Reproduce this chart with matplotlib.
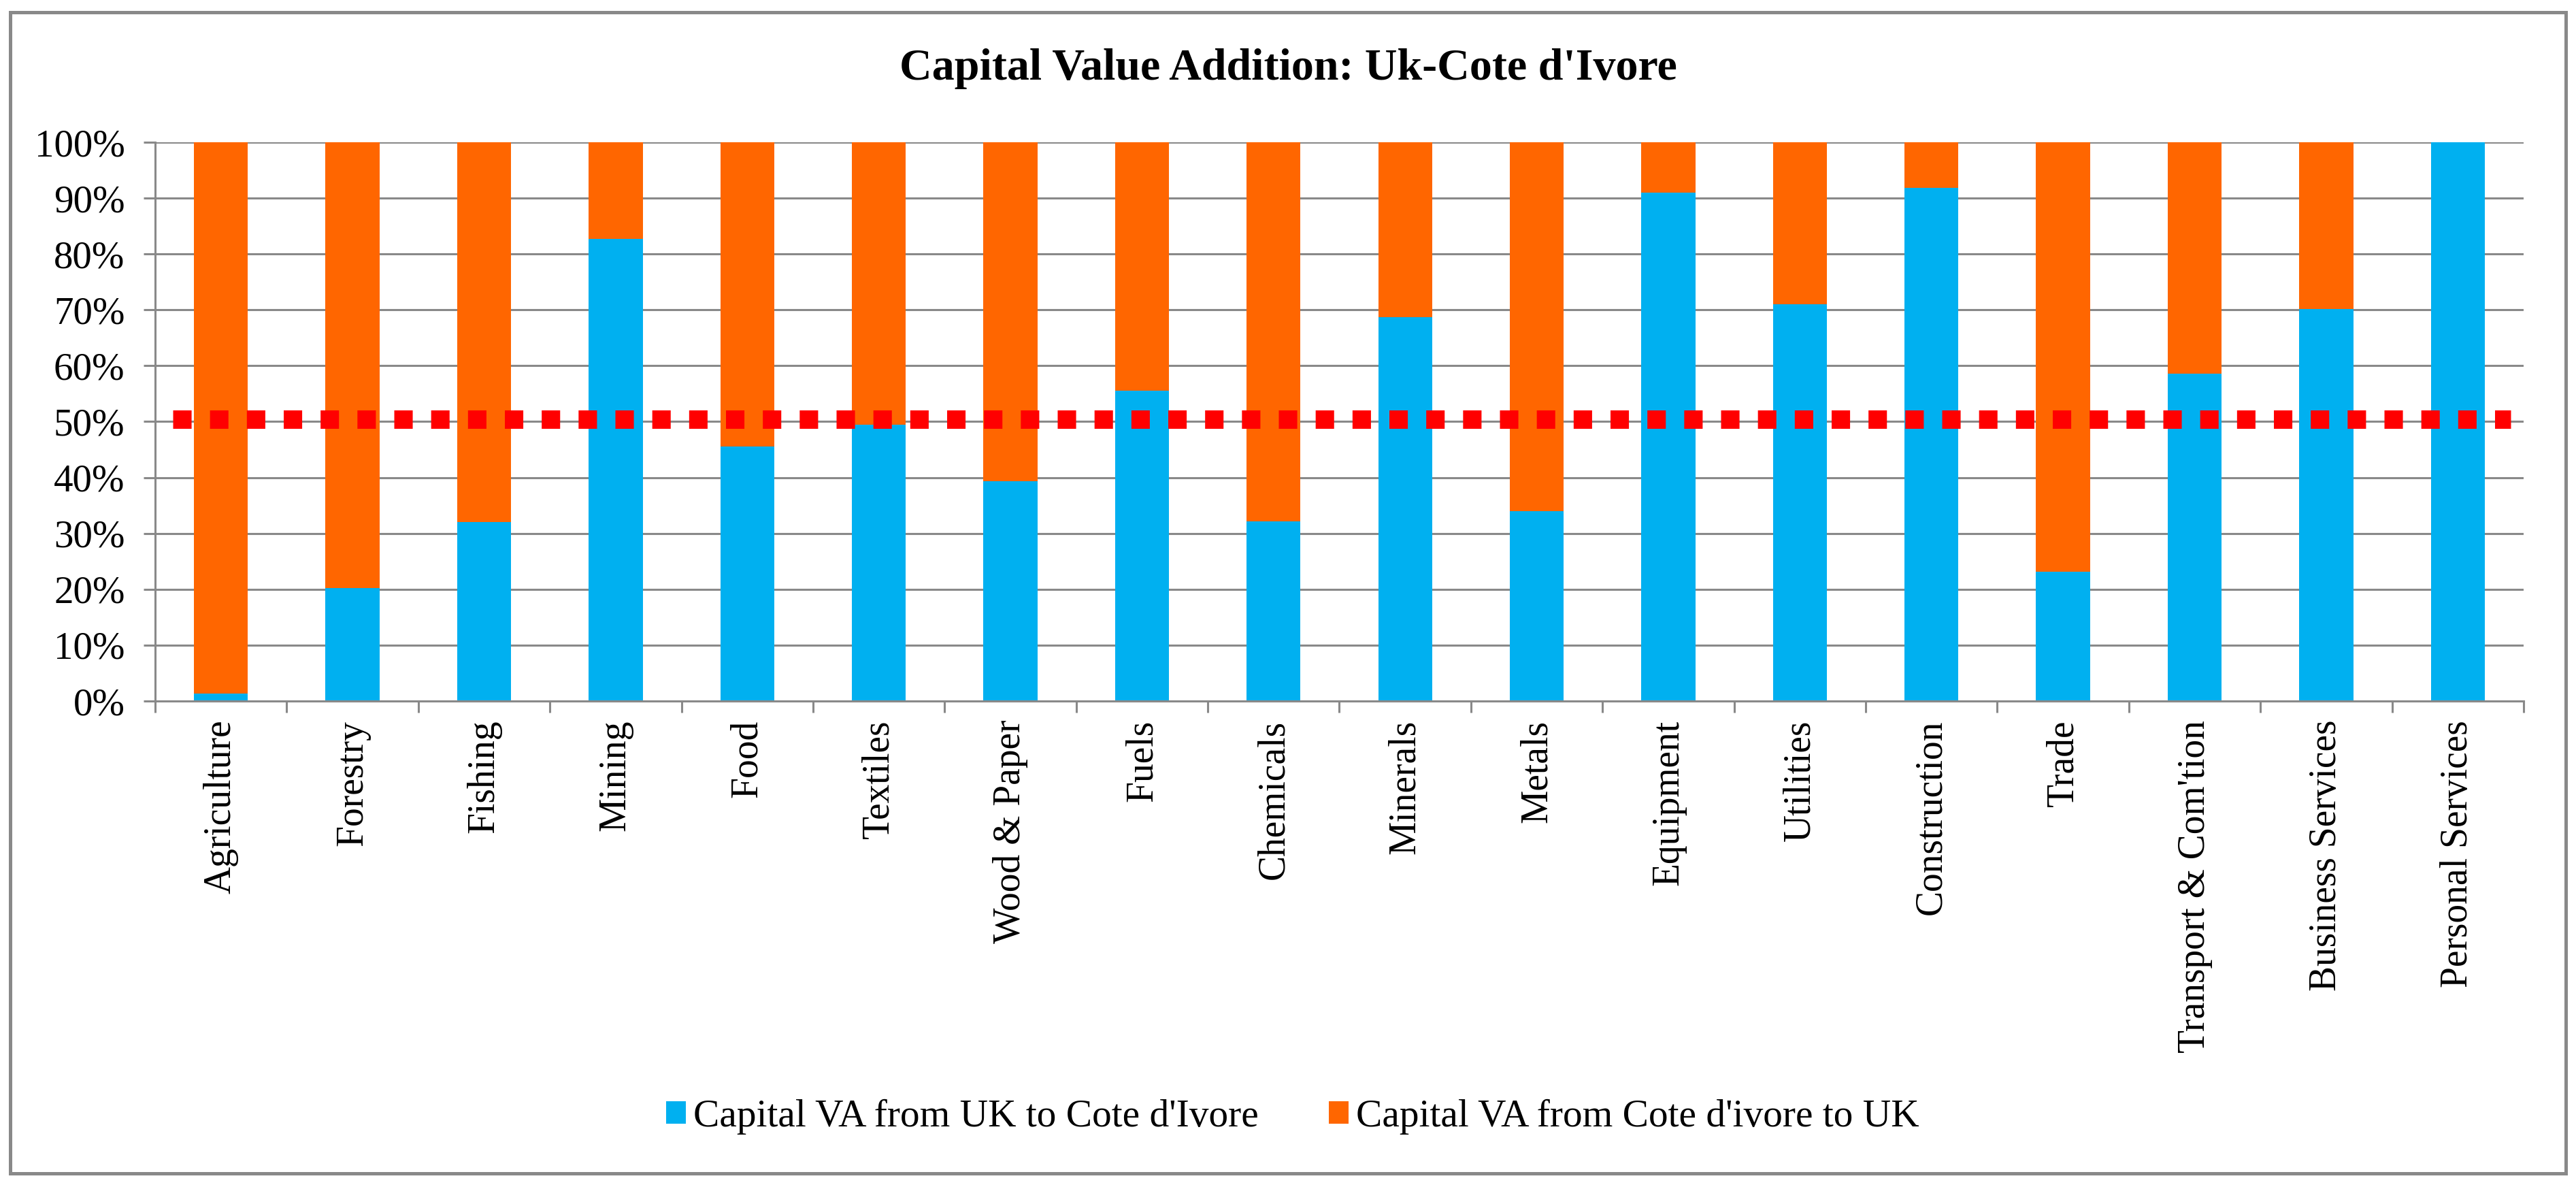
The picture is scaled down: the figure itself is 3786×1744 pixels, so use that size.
import matplotlib.pyplot as plt
from matplotlib.patches import Rectangle
from matplotlib.ticker import FixedLocator, FuncFormatter

categories = ['Agriculture', 'Forestry', 'Fishing', 'Mining', 'Food', 'Textiles',
              'Wood & Paper', 'Fuels', 'Chemicals', 'Minerals', 'Metals', 'Equipment',
              'Utilities', 'Construction', 'Trade', "Transport & Com'tion",
              'Business Services', 'Personal Services']
uk_to_ci = [1.3, 20.2, 32.0, 82.7, 45.5, 49.5, 39.3, 55.5, 32.2, 68.7, 34.0, 91.0,
            71.0, 91.8, 23.2, 58.6, 70.1, 100.0]
ci_to_uk = [100 - v for v in uk_to_ci]
ref_level = 50.4

W, H = 3787, 1744
grey = '#898989'
blue = '#00B0F0'
orange = '#FF6600'

plt.rcParams['font.family'] = ['Liberation Serif', 'DejaVu Serif']

fig = plt.figure(figsize=(W / 100, H / 100), dpi=100)
fig.add_artist(Rectangle((15 / W, 1 - 1724 / H), (3771 - 15) / W, (1724 - 18) / H,
                         transform=fig.transFigure, fill=False, edgecolor=grey, linewidth=3.6))

ax = fig.add_axes([228 / W, 1 - 1030 / H, (3709 - 228) / W, (1030 - 209) / H])

x = list(range(len(categories)))
uk = [v / 100 for v in uk_to_ci]
ci = [v / 100 for v in ci_to_uk]
ax.bar(x, uk, width=0.41, color=blue, zorder=2, label="Capital VA from UK to Cote d'Ivore")
ax.bar(x, ci, width=0.41, bottom=uk, color=orange, zorder=2, label="Capital VA from Cote d'ivore to UK")

# dotted reference line
ax.axhline(ref_level / 100, xmin=0.0075, xmax=0.9945, color='#FF0000', linewidth=19.5,
           linestyle=(0, (1, 1)), dash_capstyle='butt', zorder=3)

ax.set_xlim(-0.5, len(categories) - 0.5)
ax.set_ylim(0, 1)

ax.set_yticks([i / 10 for i in range(11)])
ax.yaxis.set_major_formatter(FuncFormatter(lambda v, p: '%d%%' % round(v * 100)))
ax.grid(axis='y', color=grey, linewidth=2.2, zorder=0)
ax.set_axisbelow(True)

ax.set_xticks(x)
ax.set_xticklabels(categories, rotation=90, ha='center', va='top')
ax.xaxis.set_minor_locator(FixedLocator([i - 0.5 for i in range(len(categories) + 1)]))
ax.tick_params(axis='x', which='major', length=0, pad=20, labelsize=40)
ax.tick_params(axis='x', which='minor', length=12, width=2.2, color=grey, direction='out')
ax.tick_params(axis='y', length=12, width=2.2, color=grey, direction='out', pad=20, labelsize=41)

for s in ['top', 'right']:
    ax.spines[s].set_visible(False)
for s in ['left', 'bottom']:
    ax.spines[s].set_color(grey)
    ax.spines[s].set_linewidth(2.2)

fig.text(0.5, 1 - 101 / H, "Capital Value Addition: Uk-Cote d'Ivore", ha='center', va='center',
         fontsize=47.5, fontweight='bold')

fig.legend(loc='center', bbox_to_anchor=(1900 / W, 1 - 1641 / H), ncol=2, frameon=False,
           fontsize=41.3, handlelength=0.5, handleheight=0.5, handletextpad=0.2, columnspacing=1.8)

fig.savefig('out.png', dpi=100)
